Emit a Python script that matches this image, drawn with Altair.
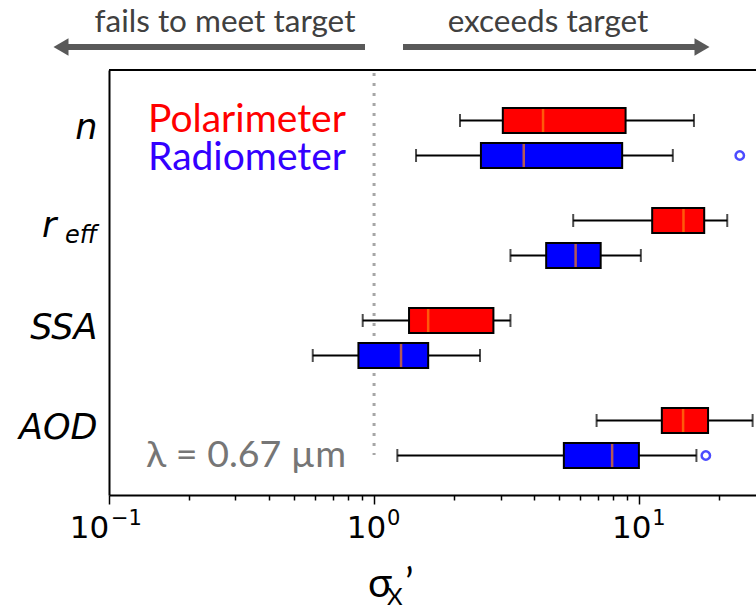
import altair as alt
import pandas as pd

# ---------------- data ----------------
params = ["n", "r_eff", "SSA", "AOD"]
series = ["Polarimeter", "Radiometer"]

pol_low = [2.11, 5.64, 0.906, 6.91]
pol_q1 = [3.06, 11.2, 1.355, 12.18]
pol_med = [4.34, 14.7, 1.60, 14.65]
pol_q3 = [8.89, 17.6, 2.82, 18.2]
pol_high = [16.1, 21.5, 3.27, 26.8]

rad_low = [1.44, 3.27, 0.587, 1.224]
rad_q1 = [2.53, 4.46, 0.873, 5.20]
rad_med = [3.67, 5.76, 1.264, 7.91]
rad_q3 = [8.63, 7.16, 1.60, 9.98]
rad_high = [13.4, 10.15, 2.51, 16.45]

outlier_param = ["n", "AOD"]
outlier_series = ["Radiometer", "Radiometer"]
outlier_value = [23.97, 17.85]

x_domain = [0.1, 27.6]
major_ticks = [0.1, 1, 10]
major_exponents = ["−1", "0", "1"]
minor_ticks = [0.2, 0.3, 0.4, 0.5, 0.6, 0.7, 0.8, 0.9,
               2, 3, 4, 5, 6, 7, 8, 9, 20]
target = 1.0

# ---------------- tables ----------------
rows = []
for i, p in enumerate(params):
    rows.append(dict(param=p, series=series[0], low=pol_low[i], q1=pol_q1[i],
                     median=pol_med[i], q3=pol_q3[i], high=pol_high[i]))
    rows.append(dict(param=p, series=series[1], low=rad_low[i], q1=rad_q1[i],
                     median=rad_med[i], q3=rad_q3[i], high=rad_high[i]))
box = pd.DataFrame(rows)
outl = pd.DataFrame(dict(param=outlier_param, series=outlier_series, value=outlier_value))

xscale = alt.Scale(type="log", domain=x_domain, nice=False)
yscale = alt.Scale(domain=params, paddingInner=0, paddingOuter=0.125, align=0.72)
oscale = alt.Scale(domain=series, paddingInner=0.2857, paddingOuter=0.5714)
cscale = alt.Scale(domain=series, range=["#ff0000", "#0000ff"])

major_test = " || ".join(f"datum.value === {v}" for v in major_ticks)

x_axis = alt.Axis(
    values=major_ticks + minor_ticks,
    labelExpr=f"({major_test}) ? '10' : ''",
    tickSize={"condition": {"test": major_test, "value": 9}, "value": 5},
    tickColor="black", tickWidth=1.5,
    domainColor="black", domainWidth=2,
    labelFont="DejaVu Sans", labelFontSize=31, labelColor="black",
    labelPadding=9, labelOverlap=False, labelFlush=False,
    labelOffset={"condition": {"test": f"datum.value === {major_ticks[0]}", "value": -20}, "value": -8},
    grid=False, title=None,
)
y_axis = alt.Axis(
    labelExpr="datum.value === 'r_eff' ? 'r' : datum.value",
    ticks=False, tickSize=0,
    domainColor="black", domainWidth=2,
    labelFont="DejaVu Sans", labelFontStyle="italic", labelFontSize=35,
    labelColor="black",
    labelPadding={"condition": {"test": "datum.value === 'r_eff'", "value": 53}, "value": 12},
    labelOffset={"condition": {"test": "datum.value === 'r_eff'", "value": -12}, "value": -10},
    grid=False, title=None,
)

def X(field):
    return alt.X(field, scale=xscale, axis=x_axis)

def Y():
    return alt.Y("param:N", scale=yscale, axis=y_axis)

def YO():
    return alt.YOffset("series:N", scale=oscale)

base = alt.Chart(box)

whiskers = base.mark_rule(color="black", strokeWidth=2).encode(
    x=X("low:Q"), x2="high:Q", y=Y(), yOffset=YO())
cap_lo = base.mark_tick(color="black", thickness=2, size=13).encode(
    x=X("low:Q"), y=Y(), yOffset=YO())
cap_hi = base.mark_tick(color="black", thickness=2, size=13).encode(
    x=X("high:Q"), y=Y(), yOffset=YO())
boxes = base.mark_bar(stroke="black", strokeWidth=2).encode(
    x=X("q1:Q"), x2="q3:Q", y=Y(), yOffset=YO(),
    color=alt.Color("series:N", scale=cscale, legend=None))
medians = base.mark_tick(color="#ff7f0e", thickness=2.5, size=23).encode(
    x=X("median:Q"), y=Y(), yOffset=YO())
outliers = alt.Chart(outl).mark_point(shape="circle", filled=False, color="#0000ff",
                                      size=70, strokeWidth=2.5).encode(
    x=X("value:Q"), y=Y(), yOffset=YO())

target_line = alt.Chart(pd.DataFrame({"t": [target]})).mark_rule(
    color="#a6a6a6", strokeDash=[3, 7], strokeWidth=3).encode(
    x=X("t:Q"), y=alt.value(3), y2=alt.value(385))

frame = alt.Chart(pd.DataFrame({"a": [x_domain[0]], "b": [x_domain[1]]})).mark_rule(
    color="black", strokeWidth=2).encode(
    x=X("a:Q"), x2="b:Q", y=alt.value(0))

# exponents of the x tick labels
exp_layers = []
for v, e in zip(major_ticks, major_exponents):
    exp_layers.append(
        alt.Chart(pd.DataFrame({"v": [v], "e": [e]})).mark_text(
            align="left", baseline="alphabetic", font="DejaVu Sans", fontSize=21,
            color="black", dx=(2 if len(e) > 1 else 13)).encode(
            text="e:N", x=X("v:Q"), y=alt.value(455))
    )

def txt(s, x, y, size, color, font="Lato", align="left"):
    return alt.Chart(pd.DataFrame({"s": [s]})).mark_text(
        align=align, baseline="alphabetic", font=font, fontSize=size,
        color=color).encode(
        text="s:N", x=alt.value(x), y=alt.value(y))

eff = alt.Chart(pd.DataFrame({"s": ["eff"], "param": ["r_eff"]})).mark_text(
    align="right", baseline="alphabetic", font="DejaVu Sans", fontStyle="italic",
    fontSize=24, color="black", dy=5).encode(
    text="s:N", x=alt.value(-12), y=Y())

ann = [
    txt("fails to meet target", 116, -38, 31.5, "#404040", align="center"),
    txt("exceeds target", 439, -38, 31.5, "#404040", align="center"),
    txt("Polarimeter", 39, 62, 39, "#ff0000"),
    txt("Radiometer", 39, 100, 39, "#3300ff"),
    txt("λ = 0.67 µm", 37, 397, 37.5, "#767676"),
    txt("σ", 259, 527, 40, "black"),
    txt("X", 278, 535, 24, "black"),
    txt("’", 296, 527, 40, "black"),
]

arrow_shafts = alt.Chart(pd.DataFrame({"a": [-48, 294], "b": [256, 593]})).mark_rule(
    color="#595959", strokeWidth=6).encode(
    x=alt.X("a:Q", scale=None, axis=None), x2="b:Q", y=alt.value(-23))
arrow_heads = alt.Chart(pd.DataFrame({"a": [-48, 593], "shape": ["triangle-left", "triangle-right"]})).mark_point(
    filled=True, color="#595959", size=300, opacity=1).encode(
    x=alt.X("a:Q", scale=None, axis=None), y=alt.value(-23),
    shape=alt.Shape("shape:N", scale=None))

chart = alt.layer(
    target_line, whiskers, cap_lo, cap_hi, boxes, medians, outliers, frame, eff,
    *exp_layers, arrow_shafts, arrow_heads, *ann
).properties(
    width=647, height=425,
    autosize=alt.AutoSizeParams(type="none"),
    padding={"left": 109, "top": 70, "right": 0, "bottom": 116},
).configure_view(stroke="transparent")

chart.save("out.html", embed_options={"renderer": "svg", "actions": False})
